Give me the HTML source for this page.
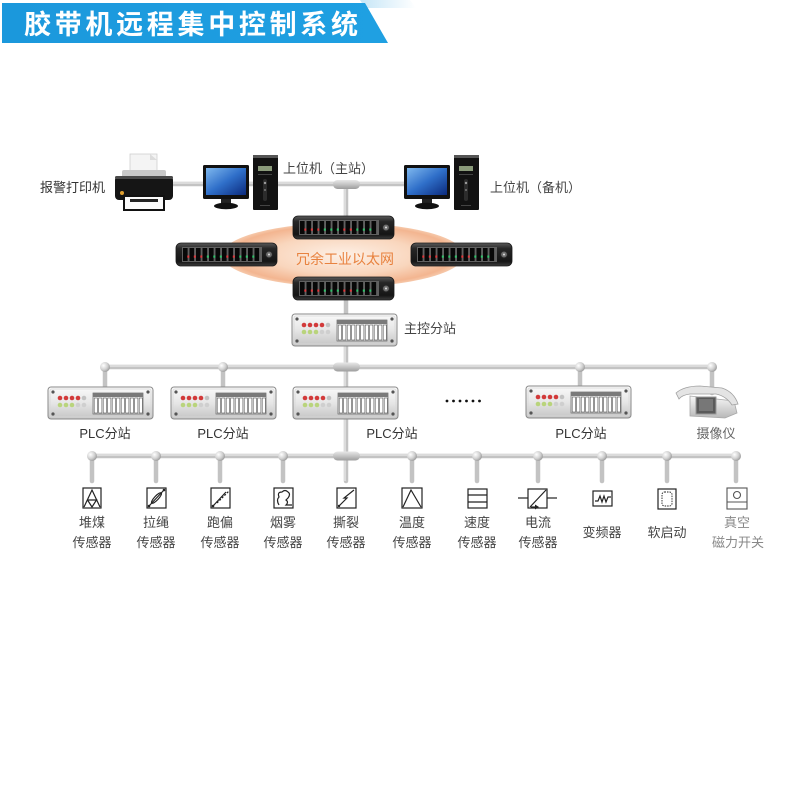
<!DOCTYPE html>
<html><head><meta charset="utf-8">
<style>
html,body{margin:0;padding:0;background:#fff;}
svg{display:block;}
text{font-family:"Liberation Sans","Noto Sans CJK SC",sans-serif;}
</style></head>
<body>
<svg width="800" height="800" viewBox="0 0 800 800" xmlns="http://www.w3.org/2000/svg">
<defs>
  <linearGradient id="swg" x1="0" y1="0" x2="0" y2="1">
    <stop offset="0" stop-color="#5a5a5a"/>
    <stop offset="0.25" stop-color="#262626"/>
    <stop offset="0.8" stop-color="#151515"/>
    <stop offset="1" stop-color="#3c3c3c"/>
  </linearGradient>
  <linearGradient id="plg" x1="0" y1="0" x2="0" y2="1">
    <stop offset="0" stop-color="#fafafa"/>
    <stop offset="0.5" stop-color="#e6e6e6"/>
    <stop offset="1" stop-color="#c4c4c4"/>
  </linearGradient>
  <radialGradient id="ell" cx="0.5" cy="0.5" r="0.5">
    <stop offset="0" stop-color="#fdf0e6"/>
    <stop offset="0.6" stop-color="#f9d6bd"/>
    <stop offset="0.92" stop-color="#f3b590"/>
    <stop offset="1" stop-color="#f6c9ab"/>
  </radialGradient>
  <radialGradient id="ball" cx="0.35" cy="0.35" r="0.7">
    <stop offset="0" stop-color="#ffffff"/>
    <stop offset="0.6" stop-color="#d0d0d0"/>
    <stop offset="1" stop-color="#9a9a9a"/>
  </radialGradient>
  <linearGradient id="pill" x1="0" y1="0" x2="0" y2="1">
    <stop offset="0" stop-color="#e8e8e8"/>
    <stop offset="0.5" stop-color="#c4c4c4"/>
    <stop offset="1" stop-color="#9d9d9d"/>
  </linearGradient>
  <linearGradient id="scr" x1="0" y1="0" x2="1" y2="1">
    <stop offset="0" stop-color="#7fb8ee"/>
    <stop offset="0.5" stop-color="#2f6fc9"/>
    <stop offset="1" stop-color="#0b2a7d"/>
  </linearGradient>
  <linearGradient id="camg" x1="0" y1="0" x2="0" y2="1">
    <stop offset="0" stop-color="#f7f7f7"/>
    <stop offset="1" stop-color="#b8b8b8"/>
  </linearGradient>
  <linearGradient id="banner" x1="0" y1="0" x2="1" y2="0">
    <stop offset="0" stop-color="#1b98dc"/>
    <stop offset="1" stop-color="#1fa0e2"/>
  </linearGradient>
  <linearGradient id="glow" x1="0" y1="0" x2="1" y2="0">
    <stop offset="0" stop-color="#bfe3f6" stop-opacity="0.9"/>
    <stop offset="1" stop-color="#bfe3f6" stop-opacity="0"/>
  </linearGradient>

  <!-- Switch -->
  <g id="sw">
    <rect x="0" y="0" width="101" height="23" rx="5" fill="url(#swg)" stroke="#1a1a1a" stroke-width="0.8"/>
    <rect x="6" y="4" width="80" height="15" fill="#606060"/>
    <g fill="#080808">
      <rect x="7" y="5" width="4.6" height="13"/><rect x="13.5" y="5" width="4.6" height="13"/>
      <rect x="20" y="5" width="4.6" height="13"/><rect x="26.5" y="5" width="4.6" height="13"/>
      <rect x="33" y="5" width="4.6" height="13"/><rect x="39.5" y="5" width="4.6" height="13"/>
      <rect x="46" y="5" width="4.6" height="13"/><rect x="52.5" y="5" width="4.6" height="13"/>
      <rect x="59" y="5" width="4.6" height="13"/><rect x="65.5" y="5" width="4.6" height="13"/>
      <rect x="72" y="5" width="4.6" height="13"/><rect x="78.5" y="5" width="4.6" height="13"/>
    </g>
    <g>
      <rect x="11.3" y="12.5" width="2" height="2.2" fill="#e2363a"/>
      <rect x="17.8" y="12.5" width="2" height="2.2" fill="#e2363a"/>
      <rect x="24.3" y="12.5" width="2" height="2.2" fill="#e2363a"/>
      <rect x="30.8" y="12.5" width="2" height="2.2" fill="#2fc46a"/>
      <rect x="37.3" y="12.5" width="2" height="2.2" fill="#2fc46a"/>
      <rect x="43.8" y="12.5" width="2" height="2.2" fill="#2fc46a"/>
      <rect x="50.3" y="12.5" width="2" height="2.2" fill="#e2363a"/>
      <rect x="56.8" y="12.5" width="2" height="2.2" fill="#e2363a"/>
      <rect x="63.3" y="12.5" width="2" height="2.2" fill="#2fc46a"/>
      <rect x="69.8" y="12.5" width="2" height="2.2" fill="#2fc46a"/>
      <rect x="76.3" y="12.5" width="2" height="2.2" fill="#2fc46a"/>
    </g>
    <circle cx="93" cy="11.5" r="3.3" fill="#6e6e6e" stroke="#2a2a2a" stroke-width="0.8"/>
    <circle cx="93" cy="11.5" r="1" fill="#ddd"/>
  </g>

  <!-- PLC station -->
  <g id="plc">
    <rect x="0" y="0" width="105" height="32" rx="3" fill="url(#plg)" stroke="#8a8a8a" stroke-width="1"/>
    <rect x="2" y="2" width="101" height="28" rx="2" fill="none" stroke="#d8d8d8" stroke-width="0.8"/>
    <g fill="#555">
      <circle cx="5" cy="5" r="1.6"/><circle cx="100" cy="5" r="1.6"/>
      <circle cx="5" cy="27" r="1.6"/><circle cx="100" cy="27" r="1.6"/>
    </g>
    <g fill="#d23a3a">
      <circle cx="12" cy="11" r="2.3"/><circle cx="18" cy="11" r="2.3"/>
      <circle cx="24" cy="11" r="2.3"/><circle cx="30" cy="11" r="2.3"/>
    </g>
    <circle cx="36" cy="11" r="2.3" fill="#c2c2c2"/>
    <g fill="#b9d47c">
      <circle cx="12" cy="18" r="2.3"/><circle cx="18" cy="18" r="2.3"/><circle cx="24" cy="18" r="2.3"/>
    </g>
    <circle cx="30" cy="18" r="2.3" fill="#cfcfcf"/>
    <circle cx="36" cy="18" r="2.3" fill="#cfcfcf"/>
    <rect x="45" y="6" width="50" height="21" fill="#f2f2f2" stroke="#666" stroke-width="0.7"/>
    <rect x="45" y="6" width="50" height="4" fill="#7a7a7a"/>
    <g fill="#fff" stroke="#555" stroke-width="0.6">
      <rect x="46.2" y="11" width="3.2" height="15"/><rect x="50.7" y="11" width="3.2" height="15"/>
      <rect x="55.2" y="11" width="3.2" height="15"/><rect x="59.7" y="11" width="3.2" height="15"/>
      <rect x="64.2" y="11" width="3.2" height="15"/><rect x="68.7" y="11" width="3.2" height="15"/>
      <rect x="73.2" y="11" width="3.2" height="15"/><rect x="77.7" y="11" width="3.2" height="15"/>
      <rect x="82.2" y="11" width="3.2" height="15"/><rect x="86.7" y="11" width="3.2" height="15"/>
      <rect x="91.2" y="11" width="3.2" height="15"/>
    </g>
  </g>

  <!-- Monitor + tower -->
  <g id="pc">
    <rect x="0" y="0" width="46" height="34" rx="1.5" fill="#111"/>
    <rect x="3" y="3" width="40" height="27" fill="url(#scr)"/>
    <rect x="18" y="34" width="10" height="5" fill="#222"/>
    <ellipse cx="23" cy="41" rx="12" ry="3.2" fill="#111"/>
    <rect x="50" y="-10" width="25" height="55" rx="1" fill="#121212"/>
    <rect x="50" y="-10" width="25" height="3" fill="#555"/>
    <rect x="55" y="1" width="14" height="5" fill="#8a9a7a"/>
    <rect x="55" y="9" width="14" height="1" fill="#444"/>
    <rect x="60" y="14" width="4" height="22" rx="2" fill="#2c2c2c"/>
    <circle cx="62" cy="18" r="1.2" fill="#9a9a9a"/>
    <circle cx="62" cy="25" r="1" fill="#777"/>
    <rect x="57" y="40" width="10" height="1" fill="#444"/>
  </g>
</defs>

<!-- Title banner -->
<polygon points="360,0 410,0 416,8 365,8" fill="url(#glow)"/>
<polygon points="2,3 365,3 388,43 2,43" fill="url(#banner)"/>
<text x="24" y="34" font-size="27" font-weight="bold" fill="#ffffff" textLength="334" lengthAdjust="spacing">胶带机远程集中控制系统</text>

<!-- Pipes -->
<g stroke="#c3c3c3" stroke-width="4.5" stroke-linecap="round" fill="none">
  <line x1="170" y1="184" x2="406" y2="184"/>
  <line x1="346" y1="184" x2="346" y2="216"/>
  <line x1="346" y1="300" x2="346" y2="314"/>
  <line x1="346" y1="345" x2="346" y2="481"/>
  <line x1="105" y1="367" x2="712" y2="367"/>
  <line x1="105" y1="367" x2="105" y2="387"/>
  <line x1="223" y1="367" x2="223" y2="387"/>
  <line x1="580" y1="367" x2="580" y2="387"/>
  <line x1="712" y1="367" x2="712" y2="393"/>
  <line x1="92" y1="456" x2="737" y2="456"/>
  <line x1="92" y1="456" x2="92" y2="481"/>
  <line x1="156" y1="456" x2="156" y2="481"/>
  <line x1="220" y1="456" x2="220" y2="481"/>
  <line x1="283" y1="456" x2="283" y2="481"/>
  <line x1="412" y1="456" x2="412" y2="481"/>
  <line x1="477" y1="456" x2="477" y2="481"/>
  <line x1="538" y1="456" x2="538" y2="481"/>
  <line x1="602" y1="456" x2="602" y2="481"/>
  <line x1="667" y1="456" x2="667" y2="481"/>
  <line x1="736" y1="456" x2="736" y2="481"/>
</g>
<g stroke="#e9e9e9" stroke-width="1.3" fill="none">
  <line x1="170" y1="183" x2="406" y2="183"/>
  <line x1="105" y1="366" x2="712" y2="366"/>
  <line x1="92" y1="455" x2="737" y2="455"/>
  <line x1="345" y1="184" x2="345" y2="216"/>
  <line x1="345" y1="345" x2="345" y2="481"/>
</g>

<!-- pills -->
<rect x="333" y="180" width="27" height="9" rx="4.5" fill="url(#pill)"/>
<rect x="333" y="362.5" width="27" height="9" rx="4.5" fill="url(#pill)"/>
<rect x="333" y="451.5" width="27" height="9" rx="4.5" fill="url(#pill)"/>

<!-- balls -->
<g fill="url(#ball)">
  <circle cx="105" cy="367" r="5"/><circle cx="223" cy="367" r="5"/>
  <circle cx="580" cy="367" r="5"/><circle cx="712" cy="367" r="5"/>
  <circle cx="92" cy="456" r="5"/><circle cx="156" cy="456" r="5"/>
  <circle cx="220" cy="456" r="5"/><circle cx="283" cy="456" r="5"/>
  <circle cx="412" cy="456" r="5"/><circle cx="477" cy="456" r="5"/>
  <circle cx="538" cy="456" r="5"/><circle cx="602" cy="456" r="5"/>
  <circle cx="667" cy="456" r="5"/><circle cx="736" cy="456" r="5"/>
</g>

<!-- Printer -->
<g>
  <rect x="130" y="154" width="27" height="24" fill="#f4f4f4" stroke="#cfcfcf" stroke-width="0.8"/>
  <polygon points="150,154 157,160 150,160" fill="#dcdcdc"/>
  <rect x="122" y="170" width="44" height="8" rx="2" fill="#c9c9c9"/>
  <rect x="115" y="176" width="58" height="24" rx="4" fill="#151515"/>
  <rect x="115" y="176" width="58" height="3" rx="1.5" fill="#4a4a4a"/>
  <circle cx="122" cy="193" r="2" fill="#e0a030"/>
  <rect x="124" y="196" width="40" height="14" fill="#fafafa" stroke="#111" stroke-width="2"/>
  <rect x="130" y="199" width="28" height="3" fill="#222"/>
</g>
<text x="40" y="192" font-size="13" fill="#333">报警打印机</text>

<!-- PCs -->
<use href="#pc" x="203" y="165"/>
<use href="#pc" x="404" y="165"/>
<text x="283" y="173" font-size="13" fill="#444">上位机（主站）</text>
<text x="490" y="192" font-size="13" fill="#444">上位机（备机）</text>

<!-- Ellipse network -->
<ellipse cx="343" cy="255" rx="121" ry="32" fill="url(#ell)"/>
<use href="#sw" x="293" y="216"/>
<use href="#sw" x="176" y="243"/>
<use href="#sw" x="411" y="243"/>
<use href="#sw" x="293" y="277"/>
<text x="296" y="264" font-size="14" fill="#e8823f">冗余工业以太网</text>

<!-- Main station -->
<use href="#plc" x="292" y="314"/>
<text x="404" y="333" font-size="13" fill="#444">主控分站</text>

<!-- PLC stations -->
<use href="#plc" x="48" y="387"/>
<use href="#plc" x="171" y="387"/>
<use href="#plc" x="293" y="387"/>
<use href="#plc" x="526" y="386"/>
<g font-size="13" fill="#333" text-anchor="middle">
  <text x="105" y="438">PLC分站</text>
  <text x="223" y="438">PLC分站</text>
  <text x="392" y="438">PLC分站</text>
  <text x="581" y="438">PLC分站</text>
</g>
<text x="716" y="438" font-size="13" fill="#666" text-anchor="middle">摄像仪</text>

<!-- dots -->
<g fill="#111">
  <circle cx="447" cy="401" r="1.4"/><circle cx="453.5" cy="401" r="1.4"/>
  <circle cx="460" cy="401" r="1.4"/><circle cx="466.5" cy="401" r="1.4"/>
  <circle cx="473" cy="401" r="1.4"/><circle cx="479.5" cy="401" r="1.4"/>
</g>

<!-- Camera -->
<g>
  <path d="M690,396 L734,401 L737,413 L725,418 L690,416 Z" fill="url(#camg)" stroke="#a8a8a8" stroke-width="0.8"/>
  <path d="M676,393 Q684,386 700,386 L722,388 Q734,392 738,404 L732,405 Q726,396 716,394 L690,394 Q682,395 679,399 Z" fill="#e4e4e4" stroke="#a0a0a0" stroke-width="0.8"/>
  <rect x="696" y="397" width="20" height="17" fill="#5a5a5a" stroke="#999" stroke-width="1"/>
  <rect x="699" y="399" width="14" height="12" fill="#777"/>
</g>

<!-- Sensor icons -->
<g fill="none" stroke="#222" stroke-width="1.2">
  <rect x="83" y="488" width="18" height="20"/>
  <polyline points="84,507 92,490 100,507"/>
  <polyline points="87.5,500 96.5,500 92,507 87.5,500"/>
  <rect x="147" y="488" width="19" height="20"/>
  <line x1="149" y1="506" x2="164" y2="490"/>
  <ellipse cx="156.5" cy="498" rx="7" ry="2" transform="rotate(-47 156.5 498)"/>
  <rect x="211" y="488" width="19" height="20"/>
  <line x1="213" y1="506" x2="226" y2="492"/>
  <line x1="217" y1="503" x2="229" y2="491" stroke-dasharray="2 1.5"/>
  <rect x="274" y="488" width="19" height="20"/>
  <path d="M279,505 Q276,500 279,497 Q277,492 282,492 Q285,489 288,492 Q291,494 288,498 L286,500 Q289,502 286,505 L292,505"/>
  <rect x="337" y="488" width="19" height="20"/>
  <polyline points="339,506 347,498 344,498 354,490"/>
  <rect x="402" y="488" width="20" height="20"/>
  <polyline points="403,507 411,490 421,507"/>
  <rect x="468" y="489" width="19" height="19"/>
  <line x1="468" y1="495" x2="487" y2="495"/>
  <line x1="468" y1="502" x2="487" y2="502"/>
  <rect x="528" y="489" width="19" height="19"/>
  <line x1="518" y1="498" x2="528" y2="498"/>
  <line x1="547" y1="498" x2="557" y2="498"/>
  <line x1="530" y1="507" x2="546" y2="490"/>
  <rect x="593" y="491" width="19" height="15"/>
  <polyline points="595,501 598,501 600,496 602,502 604,496 606,502 608,497 611,497"/>
  <rect x="658" y="489" width="18" height="20"/>
  <rect x="662" y="492" width="10" height="14" rx="2.5" stroke-width="0.9" stroke-dasharray="1.5 1"/>
</g>
<g fill="#222">
  <circle cx="149" cy="506" r="1.3"/><circle cx="164" cy="490" r="1.3"/>
  <circle cx="213" cy="506" r="1.3"/>
  <circle cx="339" cy="506" r="1.2"/>
  <polygon points="535,504.5 539,507 535,509.5"/>
</g>
<line x1="531" y1="507" x2="537" y2="507" stroke="#222" stroke-width="1.2"/>
<g fill="none" stroke="#555" stroke-width="1.1">
  <rect x="727" y="488" width="20" height="21"/>
  <circle cx="737" cy="495" r="3.5"/>
  <line x1="727" y1="502" x2="747" y2="502"/>
</g>

<!-- Sensor labels -->
<g font-size="13" fill="#444" text-anchor="middle">
  <text x="92" y="527">堆煤</text><text x="92" y="547">传感器</text>
  <text x="156" y="527">拉绳</text><text x="156" y="547">传感器</text>
  <text x="220" y="527">跑偏</text><text x="220" y="547">传感器</text>
  <text x="283" y="527">烟雾</text><text x="283" y="547">传感器</text>
  <text x="346" y="527">撕裂</text><text x="346" y="547">传感器</text>
  <text x="412" y="527">温度</text><text x="412" y="547">传感器</text>
  <text x="477" y="527">速度</text><text x="477" y="547">传感器</text>
  <text x="538" y="527">电流</text><text x="538" y="547">传感器</text>
  <text x="602" y="537">变频器</text>
  <text x="667" y="537">软启动</text>
</g>
<g font-size="13" fill="#888" text-anchor="middle">
  <text x="737" y="527">真空</text><text x="738" y="547">磁力开关</text>
</g>
</svg>
</body></html>
